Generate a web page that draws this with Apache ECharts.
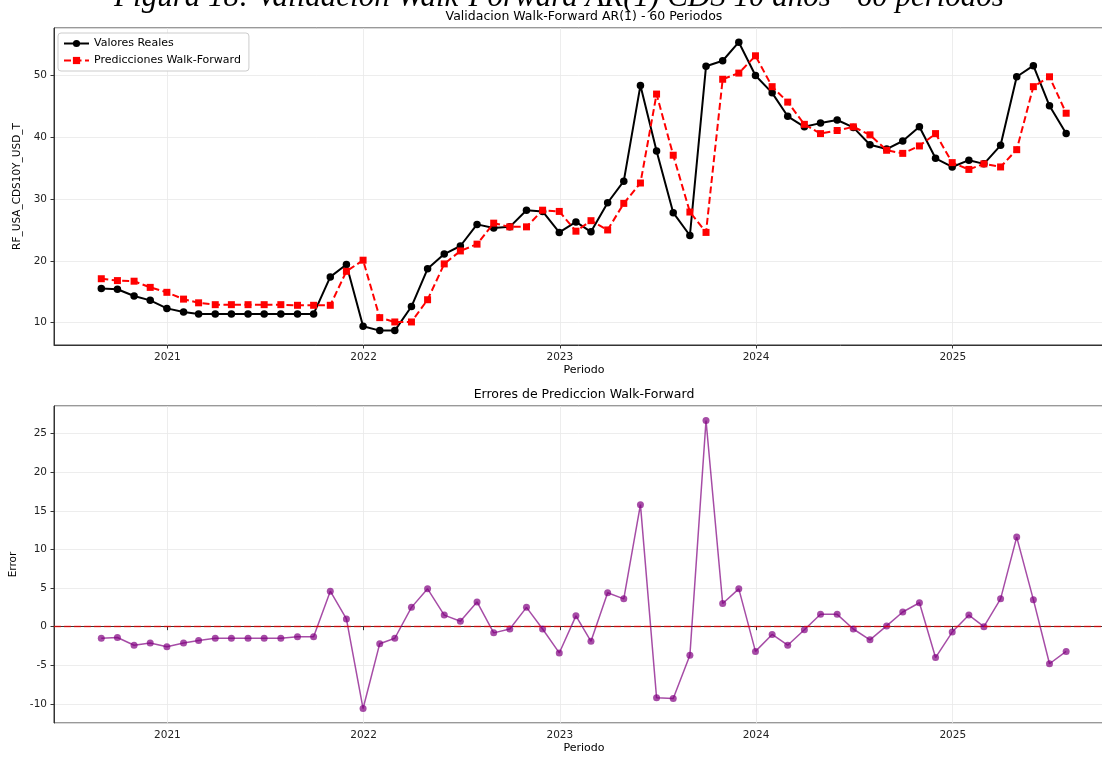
<!DOCTYPE html>
<html><head><meta charset="utf-8">
<script src="https://cdn.jsdelivr.net/npm/echarts@6/dist/echarts.min.js"></script>
<style>html,body{margin:0;padding:0;background:#fff}#c{width:1102px;height:757px}</style>
</head><body><div id="c"></div>
<script>
// Month-end dates of the 60 walk-forward periods
const dates = [
 '2020-08-31','2020-09-30','2020-10-31','2020-11-30','2020-12-31',
 '2021-01-31','2021-02-28','2021-03-31','2021-04-30','2021-05-31','2021-06-30',
 '2021-07-31','2021-08-31','2021-09-30','2021-10-31','2021-11-30','2021-12-31',
 '2022-01-31','2022-02-28','2022-03-31','2022-04-30','2022-05-31','2022-06-30',
 '2022-07-31','2022-08-31','2022-09-30','2022-10-31','2022-11-30','2022-12-31',
 '2023-01-31','2023-02-28','2023-03-31','2023-04-30','2023-05-31','2023-06-30',
 '2023-07-31','2023-08-31','2023-09-30','2023-10-31','2023-11-30','2023-12-31',
 '2024-01-31','2024-02-29','2024-03-31','2024-04-30','2024-05-31','2024-06-30',
 '2024-07-31','2024-08-31','2024-09-30','2024-10-31','2024-11-30','2024-12-31',
 '2025-01-31','2025-02-28','2025-03-31','2025-04-30','2025-05-31','2025-06-30',
 '2025-07-31'
];
const actual = [
 15.5, 15.4, 14.3, 13.6, 12.3, 11.7, 11.4, 11.4, 11.4, 11.4, 11.4, 11.4, 11.4, 11.4,
 17.4, 19.4, 9.4, 8.7, 8.7, 12.6, 18.7, 21.1,
 22.4, 25.9, 25.3, 25.5, 28.2, 28.0, 24.6, 26.3, 24.7, 29.4, 32.9, 48.4, 37.8, 27.8, 24.1, 51.5, 52.4, 55.4,
 50.0, 47.2, 43.4, 41.7, 42.3, 42.8, 41.6, 38.8, 38.1, 39.4, 41.7, 36.6, 35.2, 36.3, 35.7, 38.7, 49.8, 51.6, 45.1, 40.6
];
const predicted = [
 17.1, 16.8, 16.7, 15.7, 14.9, 13.8, 13.2, 12.9, 12.9, 12.9, 12.9, 12.9, 12.8, 12.8, 12.8, 18.3, 20.1, 10.8, 10.1, 10.1, 13.7, 19.5,
 21.6, 22.7, 26.1, 25.5, 25.5, 28.2, 28.0, 24.8, 26.5, 25.0, 29.3, 32.6, 47.0, 37.1, 27.9, 24.6, 49.4, 50.4,
 53.2, 48.2, 45.7, 42.1, 40.6, 41.1, 41.7, 40.4, 37.9, 37.4, 38.6, 40.6, 35.9, 34.8, 35.7, 35.2, 38.0, 48.2, 49.8, 43.9
];
const errors = [
 -1.5, -1.4, -2.4, -2.1, -2.6, -2.1, -1.8, -1.5, -1.5, -1.5, -1.5, -1.5, -1.3, -1.3, 4.6, 1.0, -10.6, -2.2, -1.5, 2.5, 4.9, 1.5,
 0.7, 3.2, -0.8, -0.3, 2.5, -0.3, -3.4, 1.4, -1.9, 4.4, 3.6, 15.8, -9.2, -9.3, -3.7, 26.7, 3.0, 4.9,
 -3.2, -1.0, -2.4, -0.4, 1.6, 1.6, -0.3, -1.7, 0.1, 1.9, 3.1, -4.0, -0.7, 1.5, 0.0, 3.6, 11.6, 3.5, -4.8, -3.2
];
const xTickYears = [2021, 2022, 2023, 2024, 2025];
const topTicks = [10, 20, 30, 40, 50];
const bottomTicks = [-10, -5, 0, 5, 10, 15, 20, 25];

const FONT = 'DejaVu Sans';
const ts = dates.map(d => Date.parse(d));
const pair = arr => arr.map((v, i) => [ts[i], v]);

const xMin = Date.UTC(2020, 5, 4), xMax = Date.UTC(2025, 9, 28);

function xAxisCfg(gi) {
  return {
    type: 'time', gridIndex: gi, min: xMin, max: xMax, splitNumber: 5,
    name: 'Periodo', nameLocation: 'middle', nameGap: 20,
    nameTextStyle: { fontFamily: FONT, fontSize: 11, color: '#000' },
    axisLine: { show: true, lineStyle: { color: '#333', width: 1 } },
    axisTick: { show: true, length: 3.5, inside: false, lineStyle: { color: '#333' } },
    axisLabel: {
      margin: 7, fontFamily: FONT, fontSize: 10.5, color: '#222', fontWeight: 'normal',
      showMinLabel: false, showMaxLabel: false, hideOverlap: false,
      formatter: function (v) {
        const d = new Date(v);
        const y = d.getUTCFullYear();
        if (d.getUTCMonth() === 0 && d.getUTCDate() === 1 && xTickYears.indexOf(y) >= 0) return String(y);
        return '';
      }
    },
    splitLine: { show: true, lineStyle: { color: '#e8e8e8', width: 0.8 } }
  };
}
function yAxisCfg(gi, min, max, splitNumber, ticks, name, gap) {
  return {
    type: 'value', gridIndex: gi, min: min, max: max, splitNumber: splitNumber,
    name: name, nameLocation: 'middle', nameGap: gap, nameRotate: 90,
    nameTextStyle: { fontFamily: FONT, fontSize: 10.5, color: '#000' },
    axisLine: { show: true, lineStyle: { color: '#333', width: 1 } },
    axisTick: { show: true, length: 3.5, lineStyle: { color: '#333' } },
    axisLabel: {
      margin: 7, fontFamily: FONT, fontSize: 10.5, color: '#222',
      showMinLabel: false, showMaxLabel: false,
      formatter: v => (ticks.indexOf(v) >= 0 ? String(v) : '')
    },
    splitLine: { show: true, lineStyle: { color: '#e8e8e8', width: 0.8 } }
  };
}

const chart = echarts.init(document.getElementById('c'), null, { renderer: 'canvas' });
chart.setOption({
  animation: false,
  useUTC: true,
  backgroundColor: '#fff',
  graphic: [
    { type: 'text', x: 559, y: 13, style: { text: 'Figura 18: Validación Walk-Forward AR(1) CDS 10 años - 60 periodos',
      fill: '#000', align: 'center', verticalAlign: 'bottom',
      font: 'italic 31px "Liberation Serif", "DejaVu Serif", serif' }, z: 100 },
    { type: 'text', x: 584, y: 17, style: { text: 'Validacion Walk-Forward AR(1) - 60 Periodos',
      fill: '#000', align: 'center', verticalAlign: 'middle', font: '12.5px "DejaVu Sans"' } },
    { type: 'text', x: 584, y: 395, style: { text: 'Errores de Prediccion Walk-Forward',
      fill: '#000', align: 'center', verticalAlign: 'middle', font: '12.5px "DejaVu Sans"' } }
  ],
  grid: [
    { left: 54, right: -12, top: 28, bottom: 412, show: true, borderColor: '#333', borderWidth: 1,
      containLabel: false, outerBoundsMode: 'none' },
    { left: 54, right: -12, top: 406, bottom: 34, show: true, borderColor: '#333', borderWidth: 1,
      containLabel: false, outerBoundsMode: 'none' }
  ],
  legend: {
    left: 58, top: 33, orient: 'vertical', padding: [5, 8, 5, 5], itemGap: 6,
    itemWidth: 25, itemHeight: 9,
    borderColor: '#ccc', borderWidth: 1, borderRadius: 3, backgroundColor: 'rgba(255,255,255,0.85)',
    textStyle: { fontFamily: FONT, fontSize: 11, color: '#000' },
    data: ['Valores Reales', 'Predicciones Walk-Forward']
  },
  xAxis: [xAxisCfg(0), xAxisCfg(1)],
  yAxis: [
    yAxisCfg(0, 6.37, 57.7, 5, topTicks, 'RF_USA_CDS10Y_USD_T', 27),
    yAxisCfg(1, -12.47, 28.57, 8, bottomTicks, 'Error', 35)
  ],
  series: [
    { name: 'Valores Reales', type: 'line', xAxisIndex: 0, yAxisIndex: 0, data: pair(actual),
      symbol: 'circle', symbolSize: 7.5, showSymbol: true, clip: false,
      lineStyle: { color: '#000', width: 2 }, itemStyle: { color: '#000' }, z: 3 },
    { name: 'Predicciones Walk-Forward', type: 'line', xAxisIndex: 0, yAxisIndex: 0, data: pair(predicted),
      symbol: 'rect', symbolSize: 7, showSymbol: true, clip: false,
      lineStyle: { color: '#ff0000', width: 2, type: [7, 3.5] }, itemStyle: { color: '#ff0000' }, z: 4 },
    { name: 'Errores', type: 'line', xAxisIndex: 1, yAxisIndex: 1, data: pair(errors),
      symbol: 'circle', symbolSize: 7, showSymbol: true, clip: false,
      lineStyle: { color: 'rgba(128,0,128,0.7)', width: 1.5 }, itemStyle: { color: 'rgba(128,0,128,0.7)' },
      markLine: { silent: true, symbol: ['none', 'none'], label: { show: false },
        lineStyle: { color: 'rgba(255,0,0,0.7)', type: [7, 3], width: 1.3 },
        data: [{ yAxis: 0 }] }, z: 3 }
  ]
});
</script></body></html>
